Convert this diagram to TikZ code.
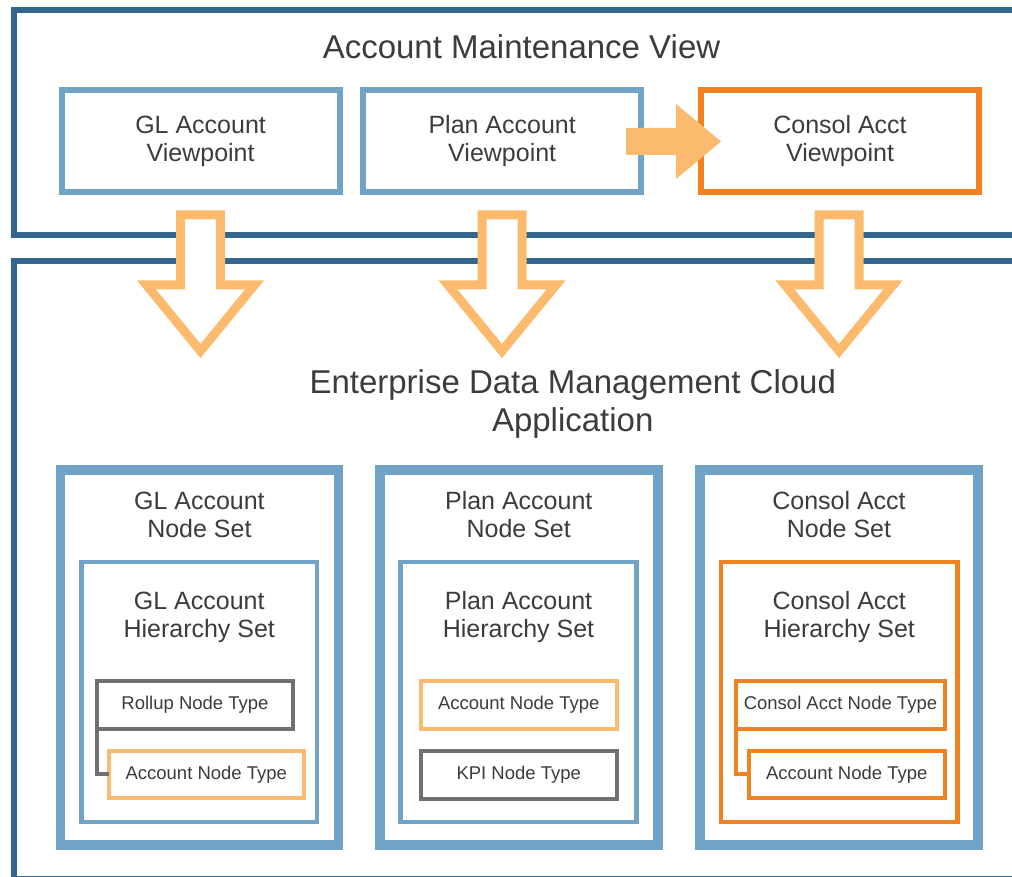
\documentclass[tikz,border=0pt]{standalone}
\usepackage{fontspec}
\setmainfont{Liberation Sans}
\definecolor{dblue}{RGB}{50,102,140}
\definecolor{lblue}{RGB}{112,163,197}
\definecolor{dorange}{RGB}{240,131,32}
\definecolor{lorange}{RGB}{251,186,110}
\definecolor{boxgray}{RGB}{112,112,112}
\definecolor{txt}{RGB}{60,60,60}
\tikzset{
  bx/.style={rectangle, inner sep=0pt, outer sep=0pt, text=txt, align=center},
  outerbox/.style={bx, draw=dblue, line width=6pt},
  vpbox/.style={bx, draw=lblue, line width=6pt, minimum width=278pt, minimum height=102pt, font=\fontsize{25}{28}\selectfont},
  nsbox/.style={bx, draw=lblue, line width=9.5pt, minimum width=278pt, minimum height=375pt},
  hsbox/.style={bx, line width=4.5pt, minimum height=260pt},
  ntbox/.style={bx, line width=4pt, minimum height=48pt, font=\fontsize{18.5}{22}\selectfont},
  lbl/.style={text=txt, align=center, inner sep=0pt, font=\fontsize{25}{28}\selectfont},
  bigtxt/.style={text=txt, align=center, inner sep=0pt, font=\fontsize{33}{38}\selectfont},
  blockdown/.style={draw=lorange, fill=white, line width=9pt, miter limit=20},
  blockright/.style={fill=lorange},
  link/.style={line width=4pt}
}
\begin{document}
\begin{tikzpicture}[x=1pt,y=-1pt]
\useasboundingbox (0,0) rectangle (1012,877);
\clip (0,0) rectangle (1012,877);
\fill[white] (0,0) rectangle (1012,877);

% outer containers
\node[outerbox, minimum width=1016.5pt, minimum height=225pt] (amv) at (521.75,122.5) {};
\node[outerbox, minimum width=1016.5pt, minimum height=618pt] (edm) at (521.75,570) {};

% titles
\node[bigtxt] (amvt) at (521.5,47.2) {Account Maintenance View};
\node[bigtxt] (edmt) at (572.75,404) {Enterprise Data Management Cloud\\Application};

% viewpoints
\node[vpbox] (glvp) at (200.6,141.2) {GL Account\\Viewpoint};
\node[vpbox] (plvp) at (502.2,141.2) {Plan Account\\Viewpoint};
\node[vpbox, draw=dorange] (csvp) at (840,141.2) {Consol Acct\\Viewpoint};

% horizontal block arrow
\fill[blockright] (626,128) -- (676,128) -- (676,104) -- (721,141.5) -- (676,179) -- (676,155) -- (626,155) -- cycle;

% down block arrows
\foreach \cx in {200.5,502,839}
  \draw[blockdown] (\cx-20,215) -- (\cx+20,215) -- (\cx+20,285) -- (\cx+54,285)
     -- (\cx,351) -- (\cx-54,285) -- (\cx-20,285) -- cycle;

% node sets
\node[nsbox] (glns) at (199.4,657.5) {};
\node[nsbox] (plns) at (518.75,657.5) {};
\node[nsbox] (csns) at (839,657.5) {};
\node[lbl] (glnst) at (199.4,515) {GL Account\\Node Set};
\node[lbl] (plnst) at (518.75,515) {Plan Account\\Node Set};
\node[lbl] (csnst) at (839,515) {Consol Acct\\Node Set};

% hierarchy sets
\node[hsbox, draw=lblue, minimum width=235.5pt] (glhs) at (199.25,692) {};
\node[hsbox, draw=lblue, minimum width=236pt] (plhs) at (518.5,692) {};
\node[hsbox, draw=dorange, minimum width=236.5pt] (cshs) at (839.25,692) {};
\node[lbl] (glhst) at (199.25,617.5) {GL Account\\Hierarchy Set};
\node[lbl] (plhst) at (518.5,617.5) {Plan Account\\Hierarchy Set};
\node[lbl] (cshst) at (839.25,617.5) {Consol Acct\\Hierarchy Set};

% node types
\node[ntbox, draw=boxgray, minimum width=196pt] (glroll) at (195,704.5) {Rollup Node Type};
\node[ntbox, draw=lorange, minimum width=195pt, minimum height=47.5pt] (glacc) at (206.3,774.25) {Account Node Type};
\draw[link, boxgray] (glroll.south west) |- (glacc.west);

\node[ntbox, draw=lorange, minimum width=196.5pt] (placc) at (518.75,704.5) {Account Node Type};
\node[ntbox, draw=boxgray, minimum width=196.5pt] (plkpi) at (518.75,774.5) {KPI Node Type};

\node[ntbox, draw=dorange, minimum width=208.5pt] (cscon) at (840.45,704.5) {Consol Acct Node Type};
\node[ntbox, draw=dorange, minimum width=196pt, minimum height=47.5pt] (csacc) at (846.75,774.25) {Account Node Type};
\draw[link, dorange] (cscon.south west) |- (csacc.west);
\end{tikzpicture}
\end{document}
